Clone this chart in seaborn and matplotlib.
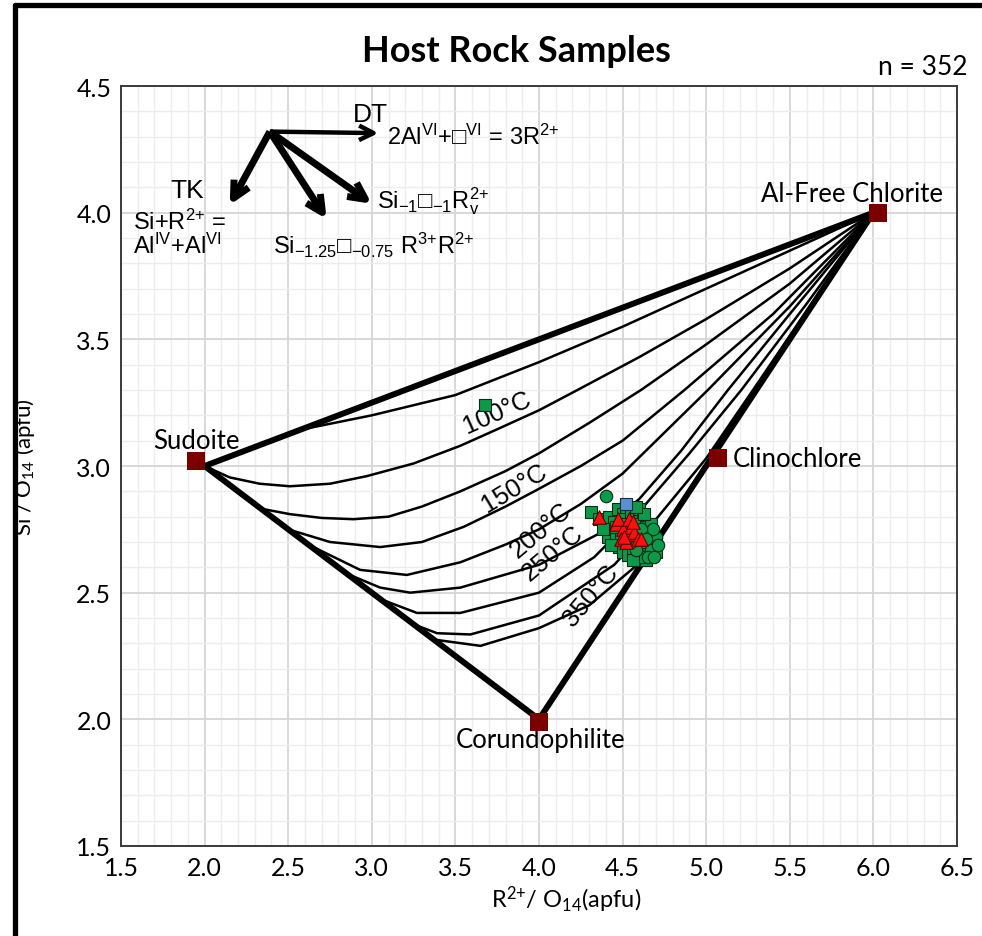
import numpy as np
import matplotlib.pyplot as plt
import seaborn as sns
from matplotlib.lines import Line2D

# ---- end-members ----
end_names = ['Sudoite', 'Al-Free Chlorite', 'Corundophilite', 'Clinochlore']
end_x = [1.95, 6.03, 4.0, 5.07]
end_y = [3.02, 4.0, 1.99, 3.03]

# ---- thick outline (sudoite -> al-free -> corundophilite -> sudoite) ----
frame_x = [2.0, 6.0, 4.0, 2.0]
frame_y = [3.0, 4.0, 2.0, 3.0]

# ---- isotherms ----
curve_a_x = [2.0, 2.55, 3.0, 3.5, 4.0, 4.5, 5.0, 5.5, 6.0]
curve_a_y = [3.0, 3.14, 3.20, 3.28, 3.41, 3.55, 3.70, 3.85, 4.0]
curve_b_x = [2.0, 2.15, 2.33, 2.51, 2.75, 2.97, 3.25, 3.53, 3.75, 4.0, 4.23, 4.6, 5.0, 5.5, 6.0]
curve_b_y = [3.0, 2.955, 2.93, 2.92, 2.93, 2.96, 3.01, 3.08, 3.145, 3.22, 3.30, 3.43, 3.58,
             3.78, 4.0]
curve_c_x = [2.0, 2.35, 2.51, 2.7, 2.89, 3.1, 3.3, 3.53, 3.8, 4.0, 4.3, 4.61, 5.0, 5.5, 6.0]
curve_c_y = [3.0, 2.83, 2.81, 2.795, 2.79, 2.80, 2.84, 2.90, 2.98, 3.05, 3.17, 3.30, 3.48,
             3.72, 4.0]
curve_d_x = [2.0, 2.5, 2.75, 3.05, 3.3, 3.55, 3.8, 4.0, 4.25, 4.5, 4.87, 5.4, 6.0]
curve_d_y = [3.0, 2.75, 2.70, 2.68, 2.70, 2.76, 2.84, 2.91, 3.00, 3.10, 3.30, 3.60, 4.0]
curve_e_x = [2.0, 2.62, 2.93, 3.21, 3.53, 3.8, 4.0, 4.25, 4.5, 5.01, 5.5, 6.0]
curve_e_y = [3.0, 2.69, 2.59, 2.57, 2.62, 2.69, 2.75, 2.85, 2.97, 3.30, 3.63, 4.0]
curve_f_x = [2.0, 2.85, 3.05, 3.23, 3.53, 4.0, 4.35, 4.6, 4.85, 5.13, 5.5, 6.0]
curve_f_y = [3.0, 2.575, 2.52, 2.50, 2.52, 2.61, 2.73, 2.87, 3.06, 3.30, 3.60, 4.0]
curve_g_x = [2.0, 3.05, 3.27, 3.53, 4.0, 4.33, 4.6, 4.9, 5.21, 5.6, 6.0]
curve_g_y = [3.0, 2.475, 2.42, 2.42, 2.50, 2.64, 2.82, 3.05, 3.30, 3.64, 4.0]
curve_h_x = [2.0, 3.25, 3.39, 3.59, 4.0, 4.45, 4.7, 5.0, 5.28, 5.65, 6.0]
curve_h_y = [3.0, 2.375, 2.34, 2.335, 2.41, 2.61, 2.79, 3.03, 3.30, 3.66, 4.0]
curve_i_x = [2.0, 3.37, 3.65, 4.0, 4.3, 4.57, 4.75, 6.0]
curve_i_y = [3.0, 2.315, 2.29, 2.36, 2.45, 2.60, 2.76, 4.0]

iso_labels = ['100°C', '150°C', '200°C', '250°C', '350°C']
iso_lab_x = [3.75, 3.85, 4.01, 4.08, 4.31]
iso_lab_y = [3.215, 2.915, 2.75, 2.66, 2.49]
iso_lab_rot = [24, 31, 40, 40, 50]

# ---- samples ----
gsq_x = [3.68, 4.31, 4.36, 4.40, 4.42, 4.45, 4.47, 4.50, 4.52, 4.55, 4.58, 4.60, 4.62,
         4.64, 4.60, 4.57, 4.54, 4.51, 4.48, 4.44, 4.41, 4.46, 4.49, 4.52, 4.55, 4.58,
         4.61, 4.64, 4.66, 4.68, 4.66, 4.63, 4.60, 4.57, 4.54, 4.51, 4.48, 4.50, 4.53,
         4.56, 4.59, 4.62, 4.65, 4.69, 4.70, 4.67, 4.63, 4.38, 4.43, 4.46, 4.58,
         4.64, 4.67, 4.61, 4.56, 4.70]
gsq_y = [3.24, 2.82, 2.79, 2.77, 2.80, 2.78, 2.83, 2.81, 2.84, 2.82, 2.80, 2.83, 2.79,
         2.76, 2.75, 2.77, 2.76, 2.77, 2.75, 2.74, 2.72, 2.71, 2.72, 2.73, 2.72, 2.73,
         2.72, 2.72, 2.74, 2.71, 2.69, 2.68, 2.69, 2.69, 2.68, 2.69, 2.68, 2.66, 2.65,
         2.66, 2.65, 2.66, 2.66, 2.68, 2.70, 2.77, 2.81, 2.75, 2.69, 2.76, 2.84,
         2.63, 2.65, 2.64, 2.63, 2.66]
gci_x = [4.40, 4.62, 4.67, 4.70, 4.65, 4.58, 4.55, 4.68, 4.52, 4.61, 4.71, 4.64, 4.69]
gci_y = [2.88, 2.70, 2.67, 2.72, 2.64, 2.67, 2.70, 2.75, 2.71, 2.75, 2.69, 2.71, 2.64]
bsq_x = [4.52]
bsq_y = [2.85]
rtri_x = [4.36, 4.46, 4.50, 4.53, 4.55, 4.57, 4.49, 4.52, 4.59, 4.47, 4.54, 4.51, 4.56, 4.61]
rtri_y = [2.80, 2.77, 2.75, 2.73, 2.76, 2.74, 2.71, 2.70, 2.71, 2.79, 2.79, 2.72, 2.78, 2.71]

sns.set_theme(style='white')
plt.rcParams['font.family'] = ['Lato', 'DejaVu Sans']
plt.rcParams['mathtext.default'] = 'regular'
plt.rcParams['mathtext.fallback'] = 'stix'
for k in ['text.color', 'axes.labelcolor', 'xtick.color', 'ytick.color']:
    plt.rcParams[k] = 'black'

fig = plt.figure(figsize=(9.82, 9.37), dpi=100)
ax = fig.add_axes([121 / 982, 90 / 937, 836 / 982, 760 / 937])

ax.set_xlim(1.5, 6.5)
ax.set_ylim(1.5, 4.5)
ax.set_xticks(np.arange(1.5, 6.51, 0.5))
ax.set_yticks(np.arange(1.5, 4.51, 0.5))
ax.set_xticks(np.arange(1.5, 6.51, 0.1), minor=True)
ax.set_yticks(np.arange(1.5, 4.51, 0.1), minor=True)
ax.grid(which='minor', color='#ededed', lw=1.0)
ax.grid(which='major', color='#d6d6d6', lw=1.3)
ax.set_axisbelow(True)
ax.tick_params(which='both', length=0, labelsize=18, pad=7)
ax.xaxis.set_major_formatter(plt.FormatStrFormatter('%.1f'))
ax.yaxis.set_major_formatter(plt.FormatStrFormatter('%.1f'))
for s in ax.spines.values():
    s.set_color('#3a3a3a')
    s.set_linewidth(1.4)

# isotherms
curves = [(curve_a_x, curve_a_y), (curve_b_x, curve_b_y), (curve_c_x, curve_c_y),
          (curve_d_x, curve_d_y), (curve_e_x, curve_e_y), (curve_f_x, curve_f_y),
          (curve_g_x, curve_g_y), (curve_h_x, curve_h_y), (curve_i_x, curve_i_y)]
for cx, cy in curves:
    sns.lineplot(x=cx, y=cy, sort=False, estimator=None, color='black', lw=1.8, ax=ax)

# thick outline
sns.lineplot(x=frame_x, y=frame_y, sort=False, estimator=None, color='black', lw=4.3,
             ax=ax, zorder=3)

# samples
sns.scatterplot(x=gsq_x, y=gsq_y, marker='s', s=75, color='#0b9a4a', edgecolor='#0d2a14',
                linewidth=0.8, ax=ax, zorder=4)
sns.scatterplot(x=gci_x, y=gci_y, marker='o', s=80, color='#0b9a4a', edgecolor='#0d2a14',
                linewidth=0.8, ax=ax, zorder=4)
sns.scatterplot(x=bsq_x, y=bsq_y, marker='s', s=75, color='#5b8fd0', edgecolor='#1a2a40',
                linewidth=0.8, ax=ax, zorder=4)
sns.scatterplot(x=rtri_x, y=rtri_y, marker='^', s=95, color='#ff1010', edgecolor='#600000',
                linewidth=0.8, ax=ax, zorder=5)

# end-members
sns.scatterplot(x=end_x, y=end_y, marker='s', s=150, color='#7a0000', linewidth=0,
                ax=ax, zorder=6)
ax.text(1.95, 3.10, 'Sudoite', ha='center', va='center', fontsize=18.5)
ax.text(5.87, 4.075, 'Al-Free Chlorite', ha='center', va='center', fontsize=18.5)
ax.text(5.16, 3.03, 'Clinochlore', ha='left', va='center', fontsize=18.5)
ax.text(4.01, 1.92, 'Corundophilite', ha='center', va='center', fontsize=18.5)

# isotherm labels
afam = ['Liberation Sans', 'DejaVu Sans']
for t, x, y, r in zip(iso_labels, iso_lab_x, iso_lab_y, iso_lab_rot):
    ax.text(x, y, t, rotation=r, ha='center', va='center', fontsize=18.5,
            family=afam, rotation_mode='anchor')

# exchange vectors
orig = (2.39, 4.32)
aprops = dict(arrowstyle='->', color='black', lw=5.0, mutation_scale=30,
              shrinkA=0, shrinkB=0, capstyle='butt')
ax.annotate('', xy=(3.04, 4.314), xytext=orig,
            arrowprops=dict(aprops, lw=3.2, mutation_scale=26))
ax.annotate('', xy=(2.15, 4.03), xytext=orig, arrowprops=aprops)
ax.annotate('', xy=(2.73, 3.975), xytext=orig, arrowprops=aprops)
ax.annotate('', xy=(3.0, 4.035), xytext=orig, arrowprops=aprops)

ax.text(2.99, 4.39, 'DT', ha='center', va='center', fontsize=19, family=afam)
ax.text(3.09, 4.30, '2Al$^{VI}$+\u25a1$^{VI}$ = 3R$^{2{+}}$', ha='left', va='center',
        fontsize=17, family=afam)
ax.text(1.895, 4.09, 'TK', ha='center', va='center', fontsize=19, family=afam)
ax.text(1.57, 3.966, 'Si+R$^{2{+}}$ =', ha='left', va='center', fontsize=17, family=afam)
ax.text(1.57, 3.87, 'Al$^{IV}$+Al$^{VI}$', ha='left', va='center', fontsize=17, family=afam)
ax.text(3.03, 4.05, 'Si$_{-1}$\u25a1$_{-1}$R$_{v}^{2{+}}$', ha='left', va='center',
        fontsize=17, family=afam)
ax.text(2.41, 3.875, 'Si$_{-1.25}$\u25a1$_{-0.75}$ R$^{3{+}}$R$^{2{+}}$', ha='left',
        va='center', fontsize=17, family=afam)

ax.set_xlabel('R$^{2{+}}$/ O$_{14}$(apfu)', fontsize=17)
ax.xaxis.set_label_coords(0.532, -0.05)
ax.set_ylabel('Si / O$_{14}$ (apfu)', fontsize=16)
ax.yaxis.set_label_coords(-0.101, 0.5)

fig.text(516 / 982, 1 - 51 / 937, 'Host Rock Samples', ha='center', va='center',
         fontsize=26, fontweight='bold')
fig.text(968 / 982, 1 - 68 / 937, 'n = 352', ha='right', va='center', fontsize=19)

# black border on top and left edge of the panel
fig.add_artist(Line2D([14.5 / 982, 1.0], [1 - 6 / 937, 1 - 6 / 937], color='black', lw=3.8,
                      transform=fig.transFigure))
fig.add_artist(Line2D([14.5 / 982, 14.5 / 982], [0.0, 1 - 6 / 937], color='black', lw=3.8,
                      transform=fig.transFigure))

fig.savefig('out.png', dpi=100)
